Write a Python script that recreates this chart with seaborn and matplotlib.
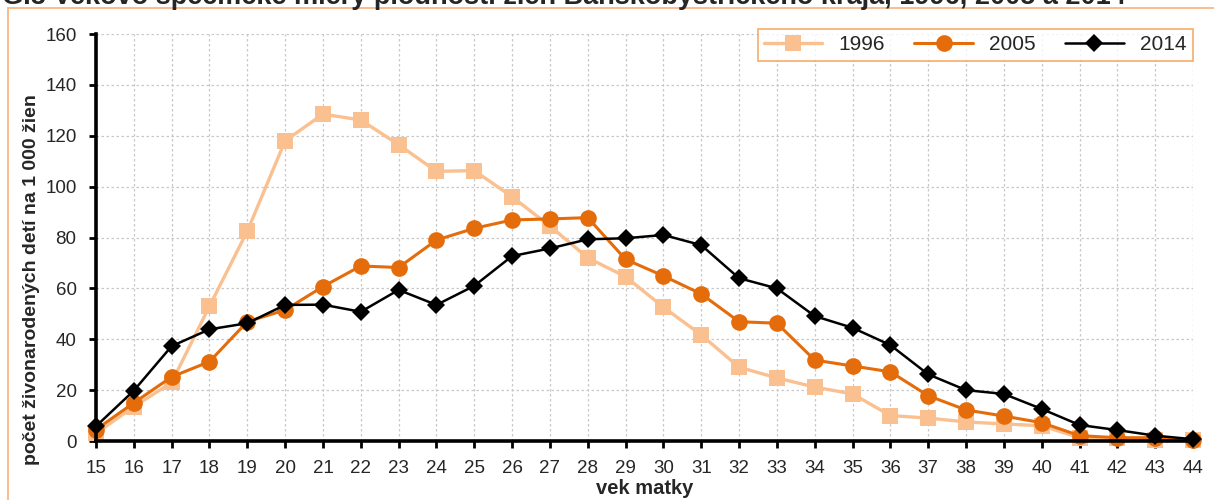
import pandas as pd
import numpy as np
from matplotlib import pyplot as plt
from matplotlib.patches import Rectangle
import seaborn as sns

# vekovo-specificke miery plodnosti (pocet zivonarodenych deti na 1000 zien)
vek = list(range(15, 45))
r1996 = [3, 13.5, 23, 53, 82.5, 118, 128.5, 126.2, 116.5, 106, 106.3, 96, 84.5, 72, 64.6,
         52.6, 41.7, 29, 24.8, 21.2, 18.5, 10, 9, 7.5, 6.7, 6, 1.3, 1, 0.5, 0.2]
r2005 = [4.5, 15, 25.2, 31.2, 46.9, 51.5, 60.7, 68.8, 68.2, 79, 83.6, 86.9, 87.3, 87.8, 71.4,
         64.9, 57.8, 46.9, 46.3, 31.8, 29.5, 27.2, 17.8, 12.2, 9.8, 7.2, 2.1, 1.3, 1.3, 0.5]
r2014 = [5.8, 19.8, 37.3, 43.9, 46.3, 53.5, 53.6, 50.8, 59.4, 53.5, 61, 72.7, 75.7, 79.3, 79.7,
         81, 77, 64, 60, 49.1, 44.5, 37.7, 26.2, 20, 18.5, 12.6, 6.3, 4.3, 2.1, 0.7]
roky = ['1996', '2005', '2014']
farby = ['#FAC090', '#E46C0A', '#000000']

df = pd.DataFrame({
    'vek': vek * 3,
    'hodnota': r1996 + r2005 + r2014,
    'rok': [r for r in roky for _ in vek],
})

sns.set_style('white')
plt.rcParams['font.family'] = ['Liberation Sans', 'DejaVu Sans']

fig = plt.figure(figsize=(12.14, 5.0), dpi=100)
ax = fig.add_axes([96 / 1214, 1 - 441 / 500, (1193 - 96) / 1214, 407 / 500])

sns.lineplot(data=df, x='vek', y='hodnota', hue='rok', style='rok', ax=ax,
             palette=dict(zip(roky, farby)), markers={'1996': 's', '2005': 'o', '2014': 'D'},
             dashes=False, errorbar=None, markersize=11, linewidth=2.2)

sizes = {'1996': 11, '2005': 12, '2014': 9.5}
widths = {'1996': 2.4, '2005': 2.2, '2014': 1.8}
for line, r in zip(ax.lines, roky):
    line.set_markeredgewidth(0)
    line.set_markersize(sizes[r])
    line.set_linewidth(widths[r])
    line.set_clip_on(False)

ax.set_xlim(15, 44)
ax.set_ylim(0, 160)
ax.set_xticks(vek)
ax.set_yticks(range(0, 161, 20))
ax.grid(True, color='#C8C8C8', linestyle=(0, (2, 2)), linewidth=0.9)
ax.set_axisbelow(True)
for s in ['top', 'right']:
    ax.spines[s].set_visible(False)
for s in ['left', 'bottom']:
    ax.spines[s].set_linewidth(2.6)
    ax.spines[s].set_color('black')
ax.tick_params(axis='both', direction='out', length=5, width=2, color='black',
               labelsize=13.5, left=True, bottom=True)
ax.tick_params(axis='x', pad=9)
ax.tick_params(axis='y', pad=9)
ax.set_xlabel('vek matky', fontsize=14.5, fontweight='bold', labelpad=1)
ax.set_ylabel('počet živonarodených detí na 1 000 žien', fontsize=14, fontweight='bold')
ax.yaxis.set_label_coords(-0.051, 0.396)

sns.move_legend(ax, loc='upper right', bbox_to_anchor=(1.0, 1.012), ncol=3, title=None,
                fontsize=15, frameon=True, fancybox=False, handlelength=2.8,
                columnspacing=1.4, borderpad=0.3, borderaxespad=0)
leg = ax.get_legend()
leg.get_frame().set_edgecolor('#F79646')
leg.get_frame().set_linewidth(1.2)
for h, r in zip(leg.legend_handles, roky):
    h.set_markeredgewidth(0)
    h.set_markersize(sizes[r])
    h.set_linewidth(widths[r])

# oramovanie obrazka (vidno len horny a lavy okraj)
fig.patches.append(Rectangle((8 / 1214, -0.1), 1.2, 1.1 - 8 / 500, transform=fig.transFigure,
                             fill=False, edgecolor='#F8B07A', linewidth=1.2))
fig.text(0.002, 1 - 4 / 500, 'G.3 Vekovo špecifické miery plodnosti žien Banskobystrického kraja, 1996, 2005 a 2014',
         fontsize=19.5, fontweight='bold', va='baseline')

fig.savefig('out.png', dpi=100)
